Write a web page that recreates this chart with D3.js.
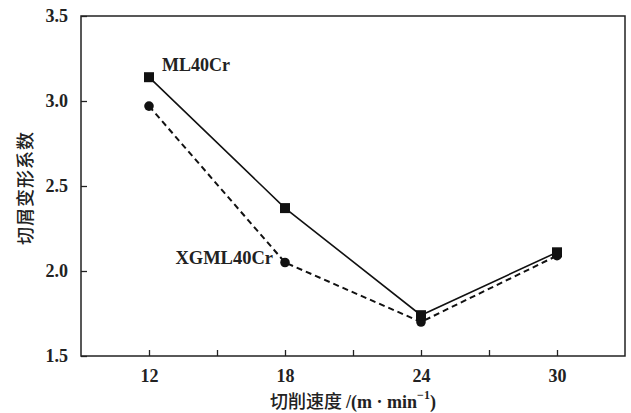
<!DOCTYPE html>
<html><head><meta charset="utf-8">
<script src="https://cdn.jsdelivr.net/npm/d3@7"></script>
<style>body{margin:0;background:#fff}</style>
</head><body><svg id="c" width="631" height="413"></svg>
<script>
const speeds = [12, 18, 24, 30];
const ml40cr = [3.14, 2.37, 1.74, 2.11];
const xgml40cr = [2.97, 2.05, 1.70, 2.09];
const xTicks = [12, 15, 18, 21, 24, 27, 30];
const xTickLabels = ["12", "", "18", "", "24", "", "30"];
const yTicks = [1.5, 2.0, 2.5, 3.0, 3.5];
const seriesNames = ["ML40Cr", "XGML40Cr"];

const svg = d3.select("#c");
const L = 81, R = 625, T = 16, B = 356;
const x = d3.scaleLinear().domain([9, 33]).range([L, R]);
const y = d3.scaleLinear().domain([1.5, 3.5]).range([B, T]);
const serif = "'Liberation Serif','Times New Roman',serif";
const cjk = "'Noto Sans CJK SC',sans-serif";

svg.append("rect").attr("x", L).attr("y", T).attr("width", R - L).attr("height", B - T)
  .attr("fill", "none").attr("stroke", "#222").attr("stroke-width", 1.5);

const xa = svg.append("g").attr("transform", `translate(0,${B})`)
  .call(d3.axisBottom(x).tickValues(xTicks).tickSizeInner(-6).tickSizeOuter(0)
    .tickFormat((d, i) => xTickLabels[i]).tickPadding(13));
xa.select(".domain").remove();
xa.selectAll("line").attr("stroke", "#222").attr("stroke-width", 1.3);
xa.selectAll("text").attr("font-family", serif).attr("font-weight", "bold").attr("font-size", 18).attr("fill", "#222");

const ya = svg.append("g").attr("transform", `translate(${L},0)`)
  .call(d3.axisLeft(y).tickValues(yTicks).tickSizeInner(-6).tickSizeOuter(0)
    .tickFormat(d3.format(".1f")).tickPadding(13));
ya.select(".domain").remove();
ya.selectAll("line").attr("stroke", "#222").attr("stroke-width", 1.3);
ya.selectAll("text").attr("font-family", serif).attr("font-weight", "bold").attr("font-size", 18).attr("fill", "#222");

const line = d3.line().x(d => x(d[0])).y(d => y(d[1]));
const d1 = speeds.map((s, i) => [s, ml40cr[i]]);
const d2 = speeds.map((s, i) => [s, xgml40cr[i]]);

svg.append("path").datum(d2).attr("d", line).attr("fill", "none")
  .attr("stroke", "#111").attr("stroke-width", 2).attr("stroke-dasharray", "6,4");
svg.append("path").datum(d1).attr("d", line).attr("fill", "none")
  .attr("stroke", "#111").attr("stroke-width", 1.6);

svg.selectAll("circle.m").data(d2).enter().append("circle")
  .attr("cx", d => x(d[0])).attr("cy", d => y(d[1])).attr("r", 4.8).attr("fill", "#111");
svg.selectAll("rect.m").data(d1).enter().append("rect")
  .attr("x", d => x(d[0]) - 5).attr("y", d => y(d[1]) - 5).attr("width", 10).attr("height", 10).attr("fill", "#111");

svg.append("text").attr("x", x(12) + 13).attr("y", y(ml40cr[0]) - 6)
  .attr("font-family", serif).attr("font-weight", "bold").attr("font-size", 18).attr("fill", "#222")
  .text(seriesNames[0]);
svg.append("text").attr("x", x(18) - 12).attr("y", y(xgml40cr[1]) + 1).attr("text-anchor", "end")
  .attr("font-family", serif).attr("font-weight", "bold").attr("font-size", 18.5).attr("fill", "#222")
  .text(seriesNames[1]);

svg.append("text").attr("transform", `translate(32,${(T + B) / 2 + 2}) rotate(-90)`)
  .attr("text-anchor", "middle").attr("font-family", cjk).attr("font-weight", "500")
  .attr("font-size", 18).attr("letter-spacing", 1).attr("fill", "#222").text("切屑变形系数");

const xl = svg.append("text").attr("x", 353).attr("y", 408).attr("text-anchor", "middle")
  .attr("font-weight", "bold").attr("font-size", 18).attr("fill", "#222");
xl.append("tspan").attr("font-family", cjk).attr("font-weight", "500").text("切削速度 ");
xl.append("tspan").attr("font-family", serif).text("/(m · min");
xl.append("tspan").attr("font-family", serif).attr("font-size", 12).attr("dy", -9).text("−1");
xl.append("tspan").attr("font-family", serif).attr("dy", 9).text(")");
</script></body></html>
